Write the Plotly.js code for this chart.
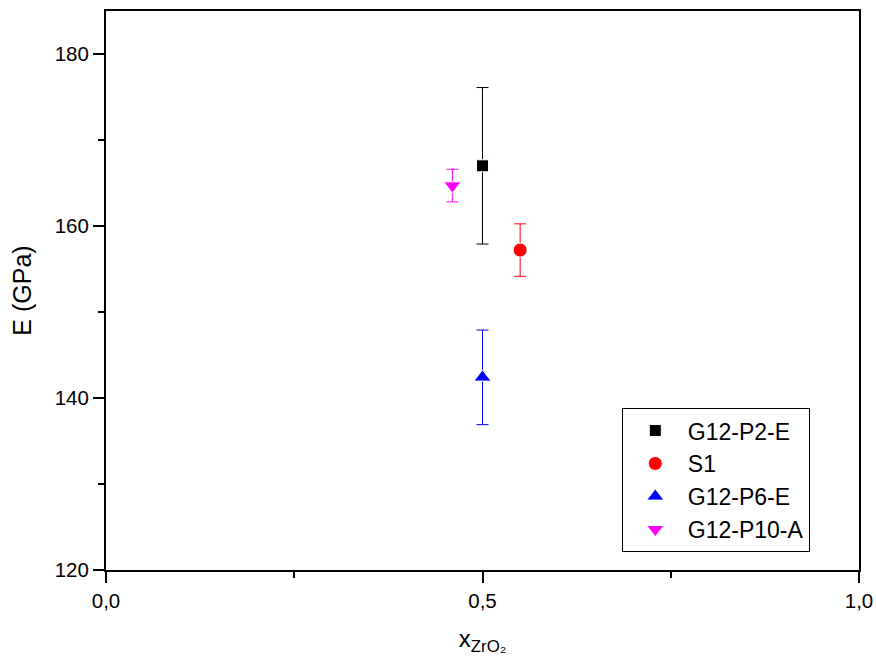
<!DOCTYPE html>
<html>
<head>
<meta charset="utf-8">
<script src="https://cdn.plot.ly/plotly-3.0.1.min.js"></script>
<style>html,body{margin:0;padding:0;background:#fff;}#chart{width:876px;height:664px;}</style>
</head>
<body>
<div id="chart"></div>
<script>
const seriesNames = ["G12-P2-E", "S1", "G12-P6-E", "G12-P10-A"];
const xValues = [0.50, 0.55, 0.50, 0.46];
const eValues = [167.0, 157.2, 142.4, 164.7];
const eErrors = [9.1, 3.05, 5.5, 1.9];
const xTickVals = [0, 0.5, 1];
const yTickVals = [120, 140, 160, 180];

const colors = ["#000000", "#ff0000", "#0000ff", "#ff00ff"];
const symbols = ["square", "circle", "triangle-up", "triangle-down"];
const sizes = [12, 14, 15, 15];

const traces = seriesNames.map((name, i) => ({
  type: "scatter",
  mode: "markers",
  name: name,
  x: [xValues[i]],
  y: [eValues[i]],
  error_y: {type: "data", array: [eErrors[i]], visible: true, color: colors[i], thickness: 1, width: 6},
  marker: {color: colors[i], symbol: symbols[i], size: sizes[i], line: {color: "#ffffff", width: 1}}
}));

const layout = {
  width: 876, height: 664,
  margin: {l: 106, r: 17, t: 11, b: 94},
  separators: ", ",
  paper_bgcolor: "#ffffff", plot_bgcolor: "#ffffff",
  font: {family: "Arial, 'Liberation Sans', sans-serif", color: "#000000", size: 20},
  showlegend: true,
  legend: {
    x: 0.685, y: 0.032, xanchor: "left", yanchor: "bottom",
    bordercolor: "#000000", borderwidth: 1, bgcolor: "#ffffff",
    font: {size: 23, color: "#000000"}, itemsizing: "trace", itemwidth: 55, tracegroupgap: 0
  },
  xaxis: {
    range: [0, 1], tickvals: xTickVals, tickformat: ".1f",
    ticks: "outside", ticklen: 11, tickwidth: 2, tickcolor: "#000",
    showline: true, linecolor: "#000", linewidth: 2, mirror: true,
    showgrid: false, zeroline: false,
    minor: {dtick: 0.25, tick0: 0, ticks: "outside", ticklen: 6, tickwidth: 2, tickcolor: "#000", showgrid: false},
    tickfont: {size: 20.5},
    title: {text: "x<sub>ZrO₂</sub>", font: {size: 24}, standoff: 20}
  },
  yaxis: {
    range: [120, 185], tickvals: yTickVals,
    ticks: "outside", ticklen: 11, tickwidth: 2, tickcolor: "#000",
    showline: true, linecolor: "#000", linewidth: 2, mirror: true,
    showgrid: false, zeroline: false,
    minor: {dtick: 10, tick0: 0, ticks: "outside", ticklen: 6, tickwidth: 2, tickcolor: "#000", showgrid: false},
    tickfont: {size: 20.5},
    title: {text: "E (GPa)", font: {size: 25}, standoff: 16}
  }
};

Plotly.newPlot("chart", traces, layout, {staticPlot: true, displayModeBar: false});
</script>
</body>
</html>
